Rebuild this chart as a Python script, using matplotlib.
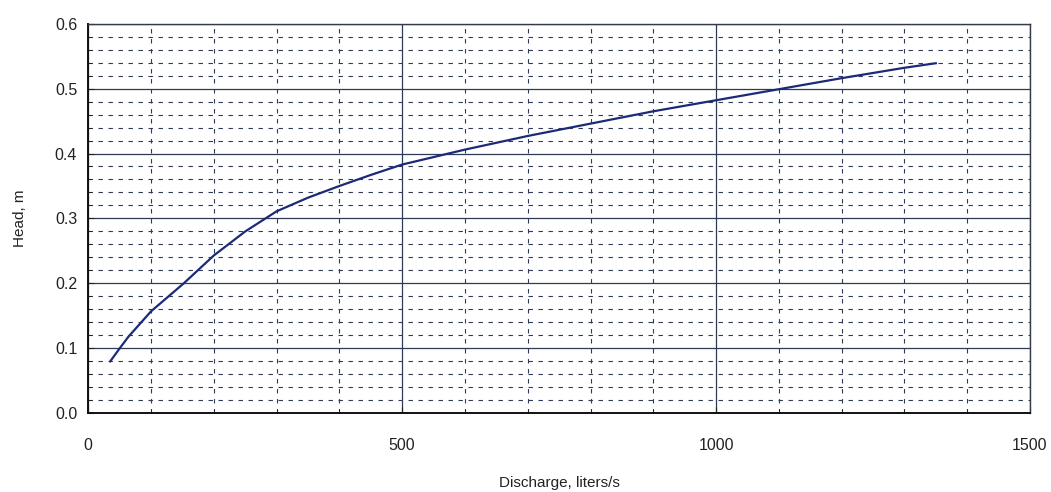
import matplotlib
matplotlib.use("Agg")
import matplotlib.pyplot as plt
import numpy as np

# Data
discharge = [35, 50, 64, 100, 152, 200, 250, 300, 350, 400, 450, 500, 600, 700, 800, 900, 1000, 1100, 1200, 1300, 1350]
head = [0.080, 0.100, 0.118, 0.157, 0.200, 0.243, 0.280, 0.311, 0.332, 0.350, 0.367, 0.383, 0.406, 0.427, 0.446, 0.465, 0.482, 0.499, 0.516, 0.532, 0.539]

x_ticks = [0, 500, 1000, 1500]
x_tick_labels = ["0", "500", "1000", "1500"]
y_ticks = [0.0, 0.1, 0.2, 0.3, 0.4, 0.5, 0.6]
y_tick_labels = ["0.0", "0.1", "0.2", "0.3", "0.4", "0.5", "0.6"]

plt.rcParams['font.family'] = ['Liberation Sans', 'DejaVu Sans']

fig = plt.figure(figsize=(10.51, 4.92), dpi=100)
ax = fig.add_axes([0.084, 0.16, 0.896, 0.792])

grid_col = "#2f3a55"
ax.set_xlim(0, 1500)
ax.set_ylim(0, 0.6)
ax.set_xticks(x_ticks)
ax.set_xticklabels(x_tick_labels)
ax.set_yticks(y_ticks)
ax.set_yticklabels(y_tick_labels)
ax.set_xticks(np.arange(0, 1501, 100), minor=True)
ax.set_yticks(np.arange(0, 0.601, 0.02), minor=True)

ax.grid(which="major", color=grid_col, linewidth=0.9, linestyle="-")
ax.grid(which="minor", color=grid_col, linewidth=0.8, linestyle=(0, (4, 5)))
ax.set_axisbelow(True)

ax.plot(discharge, head, color="#1c2a78", linewidth=1.6, zorder=3)

for s in ["left", "bottom"]:
    ax.spines[s].set_color("#111111")
    ax.spines[s].set_linewidth(1.4)
for s in ["top", "right"]:
    ax.spines[s].set_color("#333a4a")
    ax.spines[s].set_linewidth(1.0)

ax.tick_params(axis="x", which="both", direction="in", length=4, pad=18, labelsize=11.5, colors="#222222")
ax.tick_params(axis="y", which="both", direction="in", length=4, pad=8, labelsize=11.5, colors="#222222")
ax.tick_params(which="minor", length=3)

ax.set_xlabel("Discharge, liters/s", fontsize=11, labelpad=16, color="#222222")
ax.set_ylabel("Head, m", fontsize=11, labelpad=20, color="#222222")

fig.savefig("out.png", dpi=100, facecolor="white")
